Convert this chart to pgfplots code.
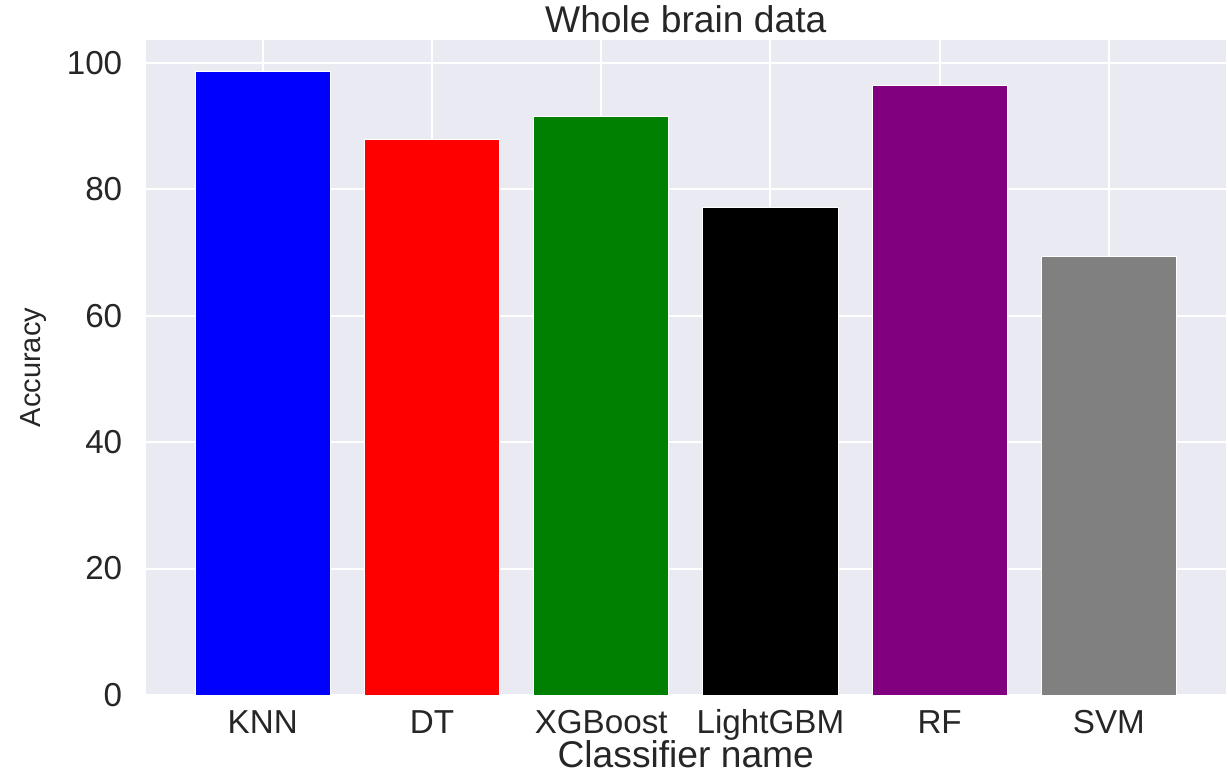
\documentclass[border=0pt]{standalone}
\usepackage{pgfplots}
\pgfplotsset{compat=1.18}
\usepackage{fontspec}
\setmainfont{Liberation Sans}
\definecolor{sbbg}{HTML}{EAEAF2}
\definecolor{txt}{HTML}{262626}
\definecolor{mygreen}{RGB}{0,128,0}
\definecolor{mypurple}{RGB}{128,0,128}
\definecolor{mygray}{RGB}{128,128,128}
\begin{document}
\begin{tikzpicture}
\path[use as bounding box] (0,0) rectangle (614pt,386.5pt);
\begin{axis}[
  at={(73pt,39pt)}, anchor=south west,
  scale only axis, width=539.8pt, height=327.5pt,
  xmin=-0.69, xmax=5.69, ymin=0, ymax=103.6,
  axis background/.style={fill=sbbg},
  axis line style={draw=none},
  tick style={draw=none},
  major tick length=0pt,
  grid=major,
  major grid style={white, line width=1pt},
  xtick={0,1,2,3,4,5},
  xticklabels={KNN,DT,XGBoost,LightGBM,RF,SVM},
  ytick={0,20,40,60,80,100},
  /pgf/number format/assume math mode=true,
  ticklabel style={font=\fontsize{16.6}{19}\selectfont, text=txt},
  xticklabel style={anchor=base, inner sep=0pt, yshift=-19pt},
  yticklabel style={anchor=east, inner sep=0pt, xshift=-11.7pt},
  title={Whole brain data},
  every axis title/.style={at={(axis description cs:0.5,1.0122)}, anchor=base, inner sep=0pt, font=\fontsize{18.6}{22}\selectfont, text=txt},
  xlabel={Classifier name},
  xlabel style={at={(axis description cs:0.5,-0.11)}, anchor=base, inner sep=0pt, font=\fontsize{18.6}{22}\selectfont, text=txt},
  ylabel={Accuracy},
  ylabel style={at={(axis description cs:-0.098,0.5)}, anchor=base, inner sep=0pt, rotate=0, font=\fontsize{14.5}{17}\selectfont, text=txt},
]
\addplot[ybar, bar width=0.8, fill=blue, draw=white, line width=0.4pt] coordinates {(0,98.6)};
\addplot[ybar, bar width=0.8, fill=red, draw=white, line width=0.4pt] coordinates {(1,87.85)};
\addplot[ybar, bar width=0.8, fill=mygreen, draw=white, line width=0.4pt] coordinates {(2,91.45)};
\addplot[ybar, bar width=0.8, fill=black, draw=white, line width=0.4pt] coordinates {(3,77.2)};
\addplot[ybar, bar width=0.8, fill=mypurple, draw=white, line width=0.4pt] coordinates {(4,96.4)};
\addplot[ybar, bar width=0.8, fill=mygray, draw=white, line width=0.4pt] coordinates {(5,69.3)};
\end{axis}
\end{tikzpicture}
\end{document}
